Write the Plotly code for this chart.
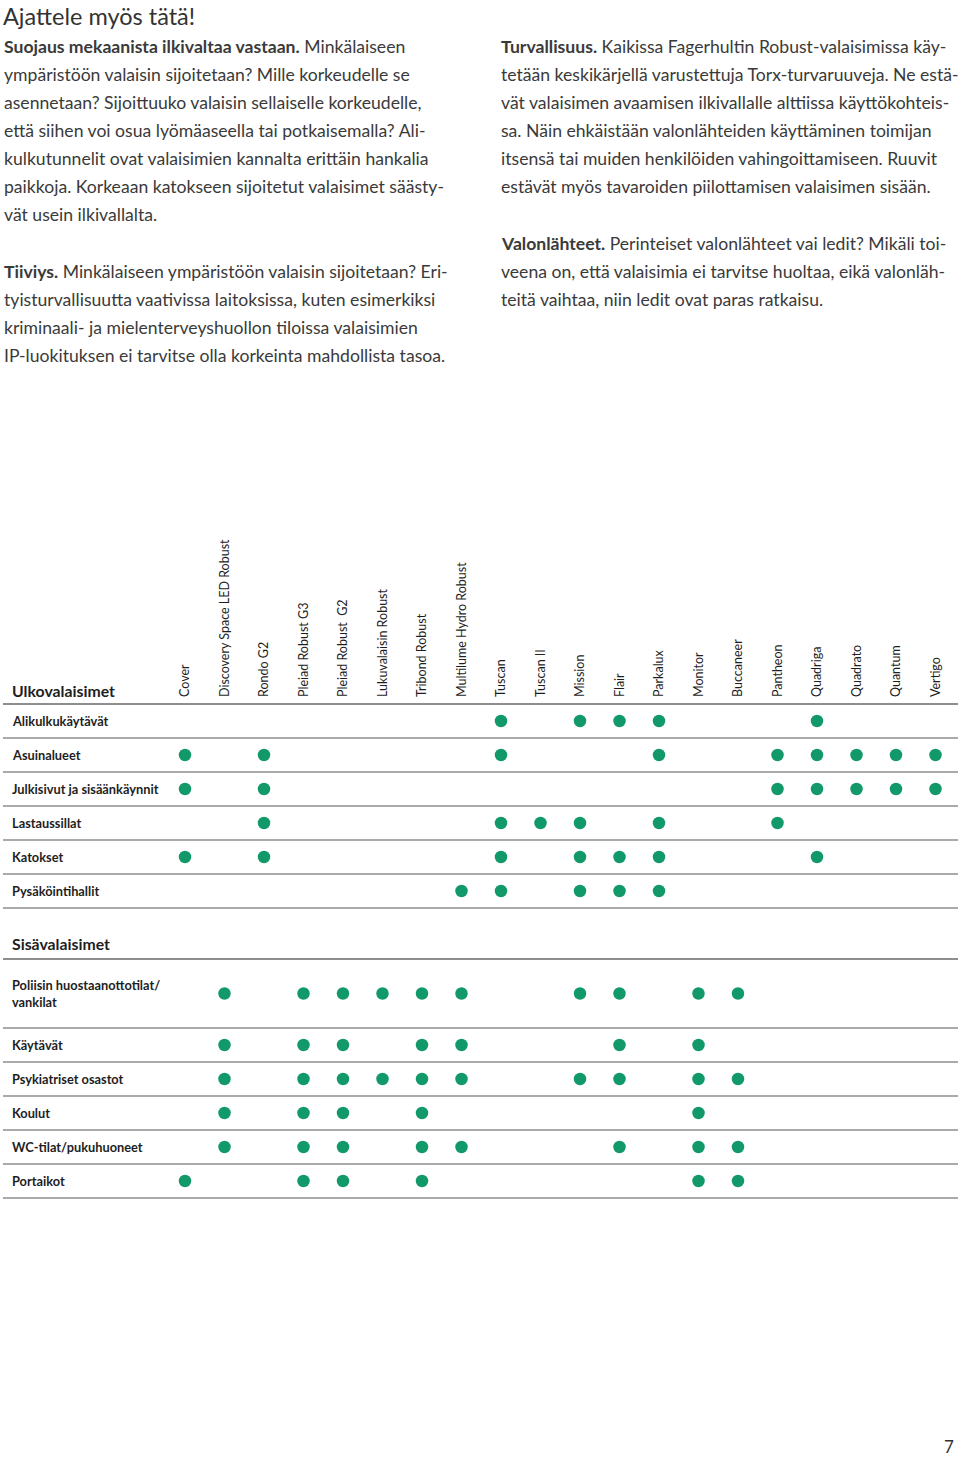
import plotly.graph_objects as go

# ---------------- data ----------------
products = ["Cover", "Discovery Space LED Robust", "Rondo G2", "Pleiad Robust G3",
            "Pleiad Robust\u00a0 G2", "Lukuvalaisin Robust", "Tribond Robust",
            "Multilume Hydro Robust", "Tuscan", "Tuscan II", "Mission", "Flair",
            "Parkalux", "Monitor", "Buccaneer", "Pantheon", "Quadriga", "Quadrato",
            "Quantum", "Vertigo"]

outdoor_title = "Ulkovalaisimet"
outdoor_rows = ["Alikulkukäytävät", "Asuinalueet", "Julkisivut ja sisäänkäynnit",
                "Lastaussillat", "Katokset", "Pysäköintihallit"]
outdoor_marks = [
    ["Tuscan", "Mission", "Flair", "Parkalux", "Quadriga"],
    ["Cover", "Rondo G2", "Tuscan", "Parkalux", "Pantheon", "Quadriga", "Quadrato", "Quantum", "Vertigo"],
    ["Cover", "Rondo G2", "Pantheon", "Quadriga", "Quadrato", "Quantum", "Vertigo"],
    ["Rondo G2", "Tuscan", "Tuscan II", "Mission", "Parkalux", "Pantheon"],
    ["Cover", "Rondo G2", "Tuscan", "Mission", "Flair", "Parkalux", "Quadriga"],
    ["Multilume Hydro Robust", "Tuscan", "Mission", "Flair", "Parkalux"],
]

indoor_title = "Sisävalaisimet"
indoor_rows = ["Poliisin huostaanottotilat/<br>vankilat", "Käytävät", "Psykiatriset osastot",
               "Koulut", "WC-tilat/pukuhuoneet", "Portaikot"]
G2 = "Pleiad Robust\u00a0 G2"
indoor_marks = [
    ["Discovery Space LED Robust", "Pleiad Robust G3", G2, "Lukuvalaisin Robust", "Tribond Robust",
     "Multilume Hydro Robust", "Mission", "Flair", "Monitor", "Buccaneer"],
    ["Discovery Space LED Robust", "Pleiad Robust G3", G2, "Tribond Robust",
     "Multilume Hydro Robust", "Flair", "Monitor"],
    ["Discovery Space LED Robust", "Pleiad Robust G3", G2, "Lukuvalaisin Robust", "Tribond Robust",
     "Multilume Hydro Robust", "Mission", "Flair", "Monitor", "Buccaneer"],
    ["Discovery Space LED Robust", "Pleiad Robust G3", G2, "Tribond Robust", "Monitor"],
    ["Discovery Space LED Robust", "Pleiad Robust G3", G2, "Tribond Robust",
     "Multilume Hydro Robust", "Flair", "Monitor", "Buccaneer"],
    ["Cover", "Pleiad Robust G3", G2, "Tribond Robust", "Monitor", "Buccaneer"],
]

page_title = "Ajattele myös tätä!"
left_par1 = ["<b>Suojaus mekaanista ilkivaltaa vastaan.</b> Minkälaiseen",
             "ympäristöön valaisin sijoitetaan? Mille korkeudelle se",
             "asennetaan? Sijoittuuko valaisin sellaiselle korkeudelle,",
             "että siihen voi osua lyömäaseella tai potkaisemalla? Ali-",
             "kulkutunnelit ovat valaisimien kannalta erittäin hankalia",
             "paikkoja. Korkeaan katokseen sijoitetut valaisimet säästy-",
             "vät usein ilkivallalta."]
left_par2 = ["<b>Tiiviys.</b> Minkälaiseen ympäristöön valaisin sijoitetaan? Eri-",
             "tyisturvallisuutta vaativissa laitoksissa, kuten esimerkiksi",
             "kriminaali- ja mielenterveyshuollon tiloissa valaisimien",
             "IP-luokituksen ei tarvitse olla korkeinta mahdollista tasoa."]
right_par1 = ["<b>Turvallisuus.</b> Kaikissa Fagerhultin Robust-valaisimissa käy-",
              "tetään keskikärjellä varustettuja Torx-turvaruuveja. Ne estä-",
              "vät valaisimen avaamisen ilkivallalle alttiissa käyttökohteis-",
              "sa. Näin ehkäistään valonlähteiden käyttäminen toimijan",
              "itsensä tai muiden henkilöiden vahingoittamiseen. Ruuvit",
              "estävät myös tavaroiden piilottamisen valaisimen sisään."]
right_par2 = ["<b>Valonlähteet.</b> Perinteiset valonlähteet vai ledit? Mikäli toi-",
              "veena on, että valaisimia ei tarvitse huoltaa, eikä valonläh-",
              "teitä vaihtaa, niin ledit ovat paras ratkaisu."]
page_number = "7"

# ---------------- layout constants ----------------
W, H = 960, 1457
FONT = "Lato"
GREEN = "#12996a"
LINE = "#8e8e8e"
TEXT = "#3a3a3a"
DARK = "#1e1e1e"
BODY = 17.6
ROW_H = 34
OUT_TOP = 704
IN_TOP = 959
COL_FIRST, COLSTEP = 185, 39.5   # pixel of first column and column spacing

x_lo = -COL_FIRST / COLSTEP
x_hi = (W - COL_FIRST) / COLSTEP

out_centres = [OUT_TOP + ROW_H / 2 + ROW_H * i for i in range(len(outdoor_rows))]
out_lines = [OUT_TOP + ROW_H * i for i in range(len(outdoor_rows) + 1)]
in_heights = [2 * ROW_H + 1] + [ROW_H] * (len(indoor_rows) - 1)
in_lines = [IN_TOP]
for h in in_heights:
    in_lines.append(in_lines[-1] + h)
in_centres = [(in_lines[i] + in_lines[i + 1]) / 2 for i in range(len(indoor_rows))]

fig = go.Figure()

xs, ys = [], []
for yc, marks in zip(out_centres + in_centres, outdoor_marks + indoor_marks):
    for p in marks:
        xs.append(p)
        ys.append(yc)
fig.add_trace(go.Scatter(x=xs, y=ys, mode="markers",
                         marker=dict(size=12.5, color=GREEN, line=dict(width=0)),
                         hoverinfo="skip", showlegend=False))

shapes = []
for ly in out_lines + in_lines:
    w = 2.2 if ly in (OUT_TOP, IN_TOP) else 1.6
    shapes.append(dict(type="line", xref="paper", yref="y", x0=3 / W, x1=958 / W,
                       y0=ly, y1=ly, line=dict(color=LINE, width=w)))

ann = []
def A(text, x, y, size, color=TEXT, bold=False, xanchor="left", yanchor="middle"):
    ann.append(dict(text=text, xref="paper", yref="y", x=x / W, y=y, xanchor=xanchor,
                    yanchor=yanchor, showarrow=False,
                    font=dict(family=FONT, size=size, color=color,
                              weight=700 if bold else 400), align="left"))

A(page_title, 1, 0, 23.5, color="#333333", yanchor="top")
LH = 28
for i, t in enumerate(left_par1):
    A(t, 2, 46 + LH * i, BODY)
for i, t in enumerate(left_par2):
    A(t, 2, 271 + LH * i, BODY)
for i, t in enumerate(right_par1):
    A(t, 499, 46 + LH * i, BODY)
for i, t in enumerate(right_par2):
    A(t, 499, 243 + LH * i, BODY)

A(outdoor_title, 10, 690, 15.8, color=DARK, bold=True)
A(indoor_title, 10, 943, 15.8, color=DARK, bold=True)
for yc, r in zip(out_centres, outdoor_rows):
    A(r, 10, yc, 12.8, color=DARK, bold=True)
for yc, r in zip(in_centres, indoor_rows):
    A(r, 10, yc, 12.8, color=DARK, bold=True)
A(page_number, 956, 1446, 17, color="#333333", xanchor="right")

fig.update_layout(
    width=W, height=H, margin=dict(l=0, r=0, t=0, b=0),
    paper_bgcolor="white", plot_bgcolor="white",
    xaxis=dict(type="category", categoryorder="array", categoryarray=products,
               range=[x_lo, x_hi], domain=[0, 1], anchor="free",
               position=1 - (OUT_TOP - 7) / H, side="top", tickangle=-90,
               showgrid=False, zeroline=False, showline=False, ticks="",
               tickfont=dict(family=FONT, size=12.5, color=DARK),
               fixedrange=True),
    yaxis=dict(range=[H, 0], domain=[0, 1], visible=False, showgrid=False,
               zeroline=False, fixedrange=True),
    shapes=shapes, annotations=ann,
)

fig.write_html("out.html", config={"displayModeBar": False},
               post_script="document.body.style.margin='0';document.body.style.padding='0';")
